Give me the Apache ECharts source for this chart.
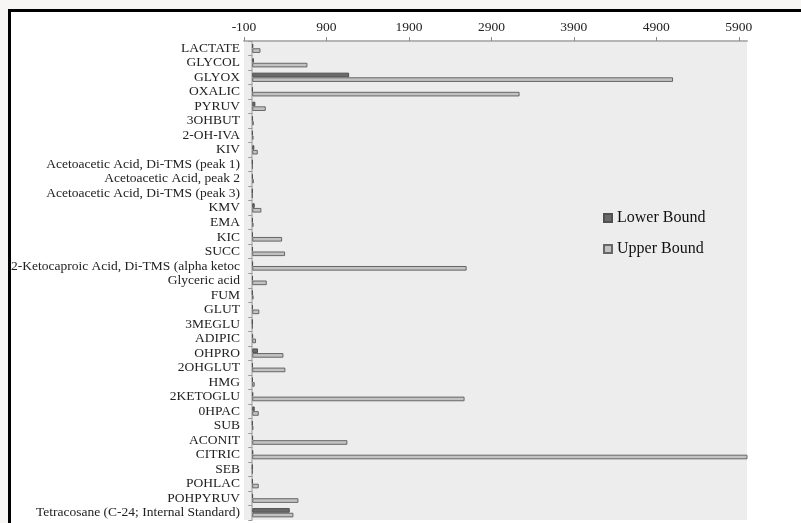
<!DOCTYPE html>
<html>
<head>
<meta charset="utf-8">
<script src="https://cdn.jsdelivr.net/npm/echarts@6/dist/echarts.min.js"></script>
<style>
  html, body { margin: 0; padding: 0; background: #f8f6f5; overflow: hidden; }
  #frame {
    position: absolute; left: 8px; top: 9px; width: 820px; height: 540px;
    border-left: 3px solid #000; border-top: 3px solid #000; background: #fff;
  }
  #main { position: absolute; left: 0; top: 0; width: 801px; height: 523px; }
</style>
</head>
<body>
<div id="frame"></div>
<div id="main"></div>
<script>
const categories = [
  'LACTATE', 'GLYCOL', 'GLYOX', 'OXALIC', 'PYRUV', '3OHBUT', '2-OH-IVA', 'KIV',
  'Acetoacetic Acid, Di-TMS (peak 1)', 'Acetoacetic Acid, peak 2',
  'Acetoacetic Acid, Di-TMS (peak 3)', 'KMV', 'EMA', 'KIC', 'SUCC',
  '2-Ketocaproic Acid, Di-TMS (alpha ketoc', 'Glyceric acid', 'FUM', 'GLUT',
  '3MEGLU', 'ADIPIC', 'OHPRO', '2OHGLUT', 'HMG', '2KETOGLU', '0HPAC', 'SUB',
  'ACONIT', 'CITRIC', 'SEB', 'POHLAC', 'POHPYRUV',
  'Tetracosane (C-24; Internal Standard)'
];

const lowerBound = [
  10, 20, 1175, 5, 38, 5, 4, 25,
  3, 5,
  2, 30, 4, 6, 6,
  8, 6, 3, 6,
  2, 8, 70, 6, 5, 10, 30, 3,
  8, 10, 2, 5, 8,
  455
];

const upperBound = [
  100, 669, 5103, 3242, 164, 18, 14, 67,
  6, 18,
  3, 111, 15, 362, 398,
  2600, 176, 15, 86,
  5, 46, 378, 402, 30, 2575, 79, 12,
  1154, 6500, 4, 79, 560,
  499
];

const xTicksMin = -100;
const xTicksMax = 6000;
const xTickStep = 1000;

const chart = echarts.init(document.getElementById('main'));

const font = '"Liberation Serif", "DejaVu Serif", serif';

const option = {
  backgroundColor: 'transparent',
  animation: false,
  textStyle: { fontFamily: font },
  grid: {
    left: 244,
    right: 54,
    top: 41,
    bottom: 3,
    show: true,
    backgroundColor: '#ecedec',
    borderWidth: 0
  },
  legend: {
    orient: 'vertical',
    left: 603,
    top: 210,
    padding: 0,
    itemWidth: 8,
    itemHeight: 8,
    itemGap: 15,
    icon: 'rect',
    textStyle: { fontFamily: font, fontSize: 16, color: '#111' },
    data: ['Lower Bound', 'Upper Bound']
  },
  xAxis: {
    type: 'value',
    position: 'top',
    min: xTicksMin,
    max: xTicksMax,
    interval: xTickStep,
    axisLine: { show: true, onZero: false, lineStyle: { color: '#b5b5b5', width: 2 } },
    axisTick: { show: true, length: 4, lineStyle: { color: '#888' } },
    axisLabel: {
      showMaxLabel: false,
      formatter: (v) => String(v),
      color: '#222',
      fontSize: 13.5,
      fontFamily: font,
      margin: 7
    },
    splitLine: { show: false }
  },
  yAxis: {
    type: 'category',
    inverse: true,
    data: categories,
    axisLine: { show: true, onZero: true, lineStyle: { color: '#b5b5b5', width: 1.5 } },
    axisTick: { show: true, length: 4, lineStyle: { color: '#999' } },
    axisLabel: {
      interval: 0,
      color: '#222',
      fontSize: 13.5,
      fontFamily: font,
      margin: 4
    }
  },
  series: [
    {
      name: 'Lower Bound',
      type: 'bar',
      barGap: '0%',
      barCategoryGap: '36%',
      itemStyle: { color: '#6a6a6a', borderColor: '#505050', borderWidth: 1 },
      data: lowerBound
    },
    {
      name: 'Upper Bound',
      type: 'bar',
      barGap: '0%',
      barCategoryGap: '36%',
      itemStyle: { color: '#c2c2c2', borderColor: '#666', borderWidth: 1 },
      data: upperBound
    }
  ]
};

chart.setOption(option);
</script>
</body>
</html>
